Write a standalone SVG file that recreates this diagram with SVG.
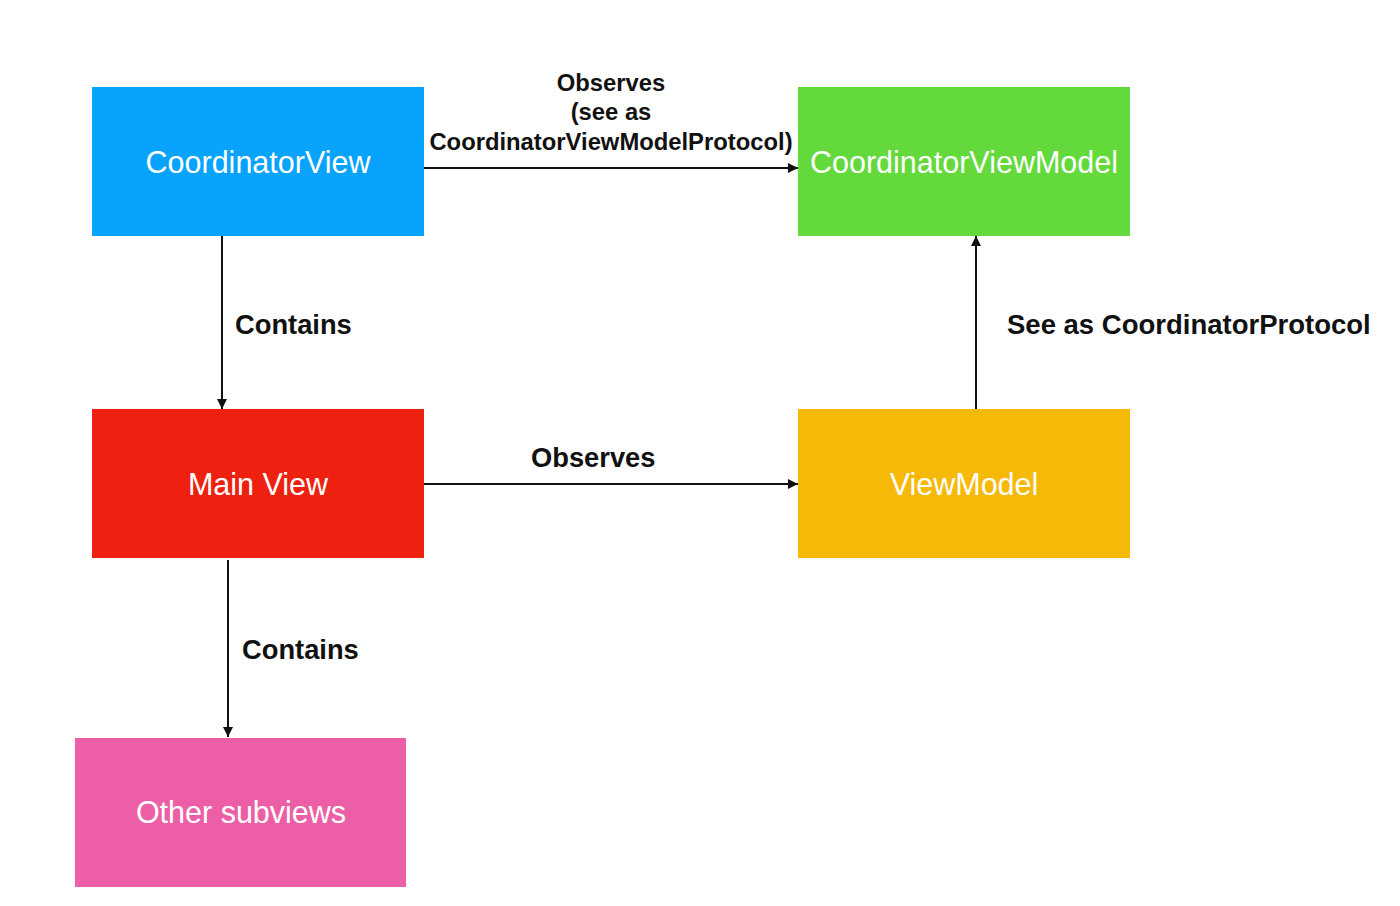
<svg xmlns="http://www.w3.org/2000/svg" width="1400" height="906" viewBox="0 0 1400 906">
<defs>
<style>
.node-text{font-family:"Liberation Sans",Arial,sans-serif;font-size:30.5px;fill:#ffffff;text-anchor:middle}
.lbl{font-family:"Liberation Sans",Arial,sans-serif;font-weight:bold;fill:#111111}
.conn{stroke:#111111;stroke-width:2;fill:none;marker-end:url(#arr)}
</style>
<marker id="arr" viewBox="0 0 10 10" refX="10" refY="5" markerWidth="5" markerHeight="5" orient="auto" markerUnits="strokeWidth">
<path d="M0,0 L10,5 L0,10 z" fill="#111111"/>
</marker>
</defs>
<rect width="1400" height="906" fill="#ffffff"/>
<g id="connectors">
<line class="conn" x1="424" y1="168" x2="798" y2="168"/>
<line class="conn" x1="222" y1="236" x2="222" y2="409"/>
<line class="conn" x1="424" y1="484" x2="798" y2="484"/>
<line class="conn" x1="976" y1="409" x2="976" y2="236"/>
<line class="conn" x1="228" y1="560" x2="228" y2="737"/>
<text class="lbl" font-size="23.8" x="611" y="91" text-anchor="middle">Observes</text>
<text class="lbl" font-size="23.8" x="611" y="120" text-anchor="middle">(see as</text>
<text class="lbl" font-size="23.8" x="611" y="150" text-anchor="middle">CoordinatorViewModelProtocol)</text>
<text class="lbl" font-size="27.3" x="235" y="334">Contains</text>
<text class="lbl" font-size="27.3" x="531" y="467">Observes</text>
<text class="lbl" font-size="27.5" x="1007" y="334">See as CoordinatorProtocol</text>
<text class="lbl" font-size="27.3" x="242" y="659">Contains</text>
</g>
<g id="coordinatorView">
<rect x="92" y="87" width="332" height="149" fill="#08A3FD"/>
<text class="node-text" x="258" y="173">CoordinatorView</text>
</g>
<g id="coordinatorViewModel">
<rect x="798" y="87" width="332" height="149" fill="#63D93B"/>
<text class="node-text" x="964" y="173">CoordinatorViewModel</text>
</g>
<g id="mainView">
<rect x="92" y="409" width="332" height="149" fill="#EE2110"/>
<text class="node-text" x="258" y="495">Main View</text>
</g>
<g id="viewModel">
<rect x="798" y="409" width="332" height="149" fill="#F6B908"/>
<text class="node-text" x="964" y="495">ViewModel</text>
</g>
<g id="otherSubviews">
<rect x="75" y="738" width="331" height="149" fill="#EC5FA6"/>
<text class="node-text" x="241" y="823">Other subviews</text>
</g>
</svg>
